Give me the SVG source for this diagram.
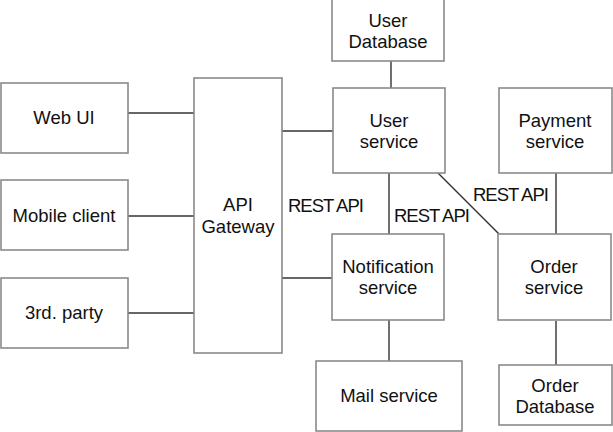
<svg xmlns="http://www.w3.org/2000/svg" width="613" height="432" viewBox="0 0 613 432">
<style>
.box{fill:#fff;stroke:#8a8a8a;stroke-width:1.6}
.t{font-family:"Liberation Sans",Arial,sans-serif;font-size:18.5px;fill:#111;text-anchor:middle}
.lbl{font-family:"Liberation Sans",Arial,sans-serif;font-size:18.5px;fill:#111;letter-spacing:-1px}
.c{stroke:#333;stroke-width:1.4;fill:none}
</style>
<rect width="613" height="432" fill="#fff"/>
<g id="connectors">
<line class="c" x1="128" y1="113" x2="194" y2="113"/>
<line class="c" x1="128" y1="216" x2="194" y2="216"/>
<line class="c" x1="128" y1="313" x2="194" y2="313"/>
<line class="c" x1="282" y1="131" x2="333" y2="131"/>
<line class="c" x1="282" y1="278" x2="333" y2="278"/>
<line class="c" x1="391" y1="61" x2="391" y2="88"/>
<line class="c" x1="389" y1="173" x2="389" y2="234"/>
<line class="c" x1="438" y1="173" x2="499" y2="234"/>
<line class="c" x1="556" y1="173" x2="556" y2="234"/>
<line class="c" x1="389" y1="320" x2="389" y2="361"/>
<line class="c" x1="556" y1="321" x2="556" y2="365"/>
<text class="lbl" x="288" y="212">REST API</text>
<text class="lbl" x="394" y="222">REST API</text>
<text class="lbl" x="473" y="201">REST API</text>
</g>
<g id="webui"><rect class="box" x="1" y="83" width="127" height="70"/><text class="t" x="64" y="124">Web UI</text></g>
<g id="mobile"><rect class="box" x="1" y="180" width="127" height="70"/><text class="t" x="64" y="222">Mobile client</text></g>
<g id="thirdparty"><rect class="box" x="1" y="278" width="127" height="70"/><text class="t" x="64" y="319">3rd. party</text></g>
<g id="gateway"><rect class="box" x="194" y="78" width="88" height="275"/><text class="t" x="238" y="211">API</text><text class="t" x="238" y="233">Gateway</text></g>
<g id="userdb"><rect class="box" x="332" y="-1" width="112" height="62"/><text class="t" x="388" y="27">User</text><text class="t" x="388" y="48">Database</text></g>
<g id="userservice"><rect class="box" x="333" y="88" width="112" height="85"/><text class="t" x="389" y="127">User</text><text class="t" x="389" y="148">service</text></g>
<g id="payment"><rect class="box" x="499" y="88" width="113" height="85"/><text class="t" x="555" y="127">Payment</text><text class="t" x="555" y="148">service</text></g>
<g id="notification"><rect class="box" x="332" y="234" width="112" height="86"/><text class="t" x="388" y="273">Notification</text><text class="t" x="388" y="294">service</text></g>
<g id="order"><rect class="box" x="498" y="234" width="113" height="86"/><text class="t" x="554" y="273">Order</text><text class="t" x="554" y="294">service</text></g>
<g id="mail"><rect class="box" x="316" y="361" width="146" height="70"/><text class="t" x="389" y="402">Mail service</text></g>
<g id="orderdb"><rect class="box" x="499" y="365" width="113" height="60"/><text class="t" x="555" y="392">Order</text><text class="t" x="555" y="413">Database</text></g>
</svg>
